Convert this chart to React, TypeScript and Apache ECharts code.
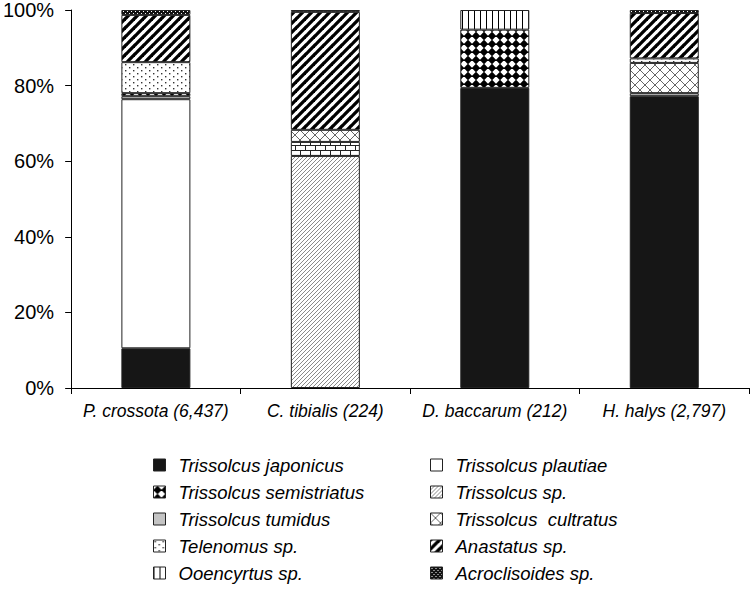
import React, { useEffect, useRef } from "react";
import * as echarts from "echarts";

const categories = ["P. crossota (6,437)", "C. tibialis (224)", "D. baccarum (212)", "H. halys (2,797)"];
const yTicks = [0, 20, 40, 60, 80, 100];

// percentages per host (stack order bottom -> top)
const japonicus = [10.5, null, 79.4, 77.2];
const plautiae = [65.9, null, null, null];
const trissolcusSp = [null, 61.4, null, null];
const tumidus = [0.8, 3.7, null, 0.8];
const semistriatus = [0.8, null, 15.4, null];
const cultratus = [null, 3.2, null, 8.0];
const telenomus = [8.2, null, null, 1.2];
const anastatus = [12.5, 31.2, null, 12.0];
const ooencyrtus = [null, null, 5.2, null];
const acroclisoides = [1.3, 0.5, null, 0.8];

const leftLegend = ["Trissolcus japonicus", "Trissolcus semistriatus", "Trissolcus tumidus", "Telenomus sp.", "Ooencyrtus sp."];
const rightLegend = ["Trissolcus plautiae", "Trissolcus sp.", "Trissolcus  cultratus", "Anastatus sp.", "Acroclisoides sp."];

function pat(w: number, h: number, draw: (c: CanvasRenderingContext2D) => void, bg = "#ffffff") {
  const cv = document.createElement("canvas");
  cv.width = w;
  cv.height = h;
  const c = cv.getContext("2d")!;
  c.fillStyle = bg;
  c.fillRect(0, 0, w, h);
  draw(c);
  return { image: cv, repeat: "repeat", imageWidth: w, imageHeight: h } as any;
}

function diag(c: CanvasRenderingContext2D, s: number, lw: number, col: string) {
  c.strokeStyle = col;
  c.lineWidth = lw;
  for (let k = -1; k <= 1; k++) {
    c.beginPath();
    c.moveTo(k * s - 1, s + 1);
    c.lineTo(k * s + s + 1, -1);
    c.stroke();
  }
}

export default function App() {
  const ref = useRef<HTMLDivElement>(null);
  useEffect(() => {
    const chart = echarts.init(ref.current!, null, { renderer: "svg" });

    const pAnastatus = pat(9, 9, (c) => diag(c, 9, 3.3, "#000"));
    const pSp = pat(4, 4, (c) => diag(c, 4, 1, "#8a8a8a"));
    const pTelenomus = pat(8, 6, (c) => {
      c.fillStyle = "#333";
      c.fillRect(1, 1, 1.4, 1.4);
      c.fillRect(5, 4, 1.4, 1.4);
    });
    const pSemi = pat(8, 8, (c) => {
      c.fillStyle = "#000";
      c.beginPath();
      c.moveTo(4, -0.3);
      c.lineTo(8.3, 4);
      c.lineTo(4, 8.3);
      c.lineTo(-0.3, 4);
      c.closePath();
      c.fill();
    });
    const pCult = pat(10, 10, (c) => {
      c.strokeStyle = "#666";
      c.lineWidth = 1;
      c.beginPath();
      c.moveTo(0, 0);
      c.lineTo(10, 10);
      c.moveTo(0, 10);
      c.lineTo(10, 0);
      c.stroke();
    });
    const pOoen = pat(6, 4, (c) => {
      c.fillStyle = "#000";
      c.fillRect(0, 0, 1, 4);
    });
    const pAcro = pat(4, 4, (c) => {
      c.fillStyle = "#ffffff";
      c.fillRect(1, 1, 1, 1);
      c.fillRect(3, 3, 1, 1);
    }, "#111");
    const pBrick = pat(10, 10, (c) => {
      c.fillStyle = "#222";
      c.fillRect(0, 0, 10, 1);
      c.fillRect(0, 5, 10, 1);
      c.fillRect(0, 0, 1, 5);
      c.fillRect(5, 5, 1, 5);
    });

    const defs: [string, (number | null)[], any][] = [
      ["Trissolcus japonicus", japonicus, "#161616"],
      ["Trissolcus plautiae", plautiae, "#ffffff"],
      ["Trissolcus sp.", trissolcusSp, pSp],
      ["Trissolcus tumidus", tumidus, "#c4c4c4"],
      ["Trissolcus semistriatus", semistriatus, pSemi],
      ["Trissolcus  cultratus", cultratus, pCult],
      ["Telenomus sp.", telenomus, pTelenomus],
      ["Anastatus sp.", anastatus, pAnastatus],
      ["Ooencyrtus sp.", ooencyrtus, pOoen],
      ["Acroclisoides sp.", acroclisoides, pAcro],
    ];

    const series = defs.map(([name, vals, color]) => ({
      name,
      type: "bar",
      stack: "total",
      barWidth: 69,
      itemStyle: { color, borderColor: "#222", borderWidth: 1 },
      data: vals.map((v, i) => {
        if (v == null) return "-";
        if (name === "Trissolcus tumidus" && i === 1) {
          return { value: v, itemStyle: { color: pBrick } };
        }
        return v;
      }),
    }));

    const legendBase = {
      orient: "vertical",
      icon: "rect",
      padding: 0,
      itemWidth: 12,
      itemHeight: 12,
      itemGap: 5,
      selectedMode: false,
      itemStyle: { borderColor: "#222", borderWidth: 1 },
      textStyle: {
        fontFamily: "Liberation Sans, Arial, sans-serif",
        fontStyle: "italic",
        fontSize: 18.5,
        lineHeight: 22,
        color: "#000",
        padding: [0, 0, 0, 8],
      },
    };

    chart.setOption({
      animation: false,
      backgroundColor: "#ffffff",
      legend: [
        { ...legendBase, left: 153, top: 454, data: leftLegend },
        { ...legendBase, left: 430, top: 454, data: rightLegend },
      ],
      grid: { left: 70, right: 1, top: 10, bottom: 208 },
      xAxis: {
        type: "category",
        data: categories,
        axisLine: { lineStyle: { color: "#000", width: 1 } },
        axisTick: { show: true, length: 6, alignWithLabel: false, lineStyle: { color: "#000" } },
        axisLabel: {
          margin: 14,
          fontFamily: "Liberation Sans, Arial, sans-serif",
          fontStyle: "italic",
          fontSize: 17.5,
          color: "#000",
          interval: 0,
        },
      },
      yAxis: {
        type: "value",
        min: yTicks[0],
        max: yTicks[yTicks.length - 1],
        interval: 20,
        axisLine: { show: true, lineStyle: { color: "#000", width: 1 } },
        axisTick: { show: true, length: 6, lineStyle: { color: "#000" } },
        splitLine: { show: false },
        axisLabel: {
          margin: 17,
          fontFamily: "Liberation Sans, Arial, sans-serif",
          fontSize: 20,
          color: "#000",
          formatter: "{value}%",
        },
      },
      series,
    } as any);
    return () => chart.dispose();
  }, []);
  return (
    <div
      ref={ref}
      style={{ position: "fixed", left: 0, top: 0, width: 750, height: 596, background: "#fff" }}
    />
  );
}
